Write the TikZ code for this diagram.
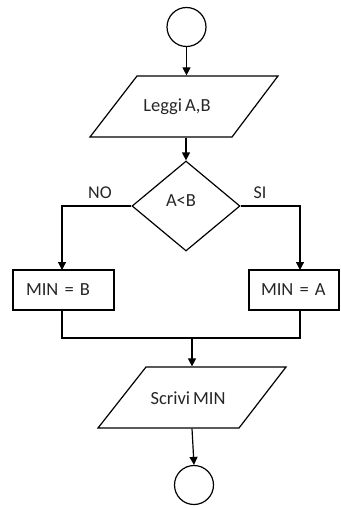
\documentclass[tikz,border=0pt]{standalone}
\usepackage{fontspec}
\setmainfont{Carlito}[WordSpace=0.7]
\usetikzlibrary{arrows.meta,shapes.geometric,calc}
\begin{document}
\begin{tikzpicture}[x=1pt,y=-1pt,
  line width=1.2pt,
  arr/.style={-{Triangle[length=8pt,width=8pt]}},
  term/.style={draw,circle,minimum size=39pt,inner sep=0pt},
  io/.style={minimum width=140pt,minimum height=61pt,inner sep=0pt},
  txt/.style={font=\fontsize{18.5}{22}\selectfont,text=black!85},
  proc/.style={draw,rectangle,minimum height=40pt,align=left,font=\fontsize{18.5}{22}\selectfont,text=black!85},
  lbl/.style={font=\fontsize{18}{21}\selectfont,text=black!85}]
\useasboundingbox (0,0) rectangle (340,508);
% start
\node[term] (start) at (186.5,27) {};
% input parallelogram
\node[io] (leggi) at (186,106.5) {};
\draw (137,76) -- (278,76) -- (232,137) -- (90,137) -- cycle;
\node[txt] (leggiT) at (177,107) {Leggi A,B};
% decision
\node[draw,diamond,minimum width=108pt,minimum height=90pt,inner sep=0pt] (dec) at (186,206) {};
\node[txt] (decT) at (181,201) {A<B};
\node[lbl] (no) at (100,193) {NO};
\node[lbl] (si) at (260,193) {SI};
% process boxes
\node[proc,inner xsep=13pt,text width=75pt] (minB) at (63.5,290) {\mbox{MIN = B}};
\node[proc,inner xsep=12pt,text width=66pt] (minA) at (294,290) {\mbox{MIN = A}};
\coordinate (rA) at (300,270);
\coordinate (rAb) at (300,310);
\coordinate (lBt) at (62,270);
\coordinate (lBb) at (62,310);
\coordinate (join) at (192,338);
% output parallelogram
\node[io] (scrivi) at (192,397.5) {};
\draw (146,367) -- (286,367) -- (239,428) -- (98,428) -- cycle;
\node[txt] (scriviT) at (188,398) {Scrivi MIN};
% end
\node[term] (stop) at (194,485) {};
% connectors
\draw[arr] (start.south) -- (start.south |- leggi.north);
\draw[arr] (leggi.south) -- (dec.north);
\draw[arr] (dec.west) -| (lBt);
\draw[arr] (dec.east) -| (rA);
\draw (lBb) |- (join) -| (rAb);
\draw[arr] (join) -- (join |- scrivi.north);
\draw[arr] (scrivi.south) -- (stop.north);
\end{tikzpicture}
\end{document}
